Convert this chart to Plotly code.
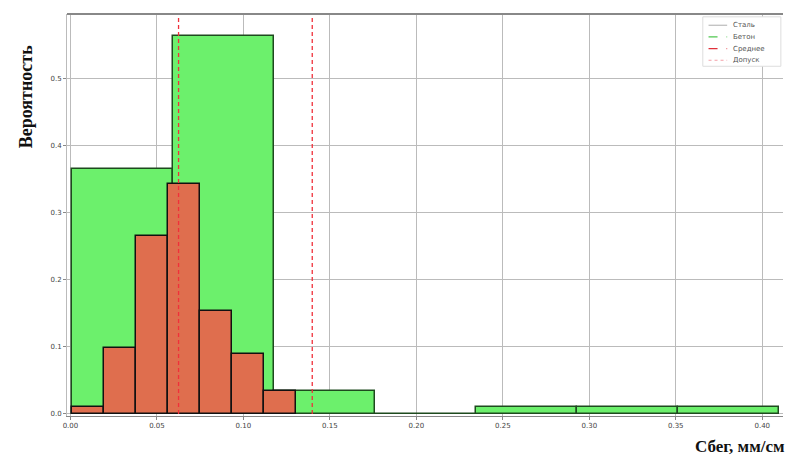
import plotly.graph_objects as go

# Data
red_edges = [0.001, 0.0195, 0.038, 0.0565, 0.075, 0.0935, 0.112, 0.1305]
red_probs = [0.010, 0.099, 0.266, 0.343, 0.153, 0.089, 0.035]

green_edges = [0.001, 0.0594, 0.1178, 0.1762, 0.2346, 0.293, 0.3514, 0.4098]
green_probs = [0.366, 0.564, 0.034, 0.0, 0.0104, 0.0104, 0.0104]

vlines_red = [0.0625, 0.1398]

x_ticks = [0.0, 0.05, 0.1, 0.15, 0.2, 0.25, 0.3, 0.35, 0.4]
x_tick_labels = ["0.00", "0.05", "0.10", "0.15", "0.20", "0.25", "0.30", "0.35", "0.40"]
y_ticks = [0.0, 0.1, 0.2, 0.3, 0.4, 0.5]
y_tick_labels = ["0.0", "0.1", "0.2", "0.3", "0.4", "0.5"]

legend_names = ["Сталь", "Бетон", "Среднее", "Допуск"]
legend_colors = ["#BBBBBB", "#50C850", "#E0303A", "#F4A0A8"]
legend_dash = ["solid", "dash", "dash", "dot"]


def centers(edges):
    return [(a + b) / 2 for a, b in zip(edges[:-1], edges[1:])]


def widths(edges):
    return [b - a for a, b in zip(edges[:-1], edges[1:])]


fig = go.Figure()

fig.add_trace(go.Bar(
    x=centers(green_edges), y=green_probs, width=widths(green_edges),
    marker=dict(color="#6CF06C", line=dict(color="#1E4A1E", width=1.5)),
    name=legend_names[0], showlegend=False,
))
fig.add_trace(go.Bar(
    x=centers(red_edges), y=red_probs, width=widths(red_edges),
    marker=dict(color="#DF6E4E", line=dict(color="#111111", width=1.5)),
    name=legend_names[1], showlegend=False,
))

for xv in vlines_red:
    fig.add_trace(go.Scatter(
        x=[xv, xv], y=[0, 0.6], mode="lines",
        line=dict(color="#F0303A", width=1.3, dash="4px,3px"),
        showlegend=False, hoverinfo="skip",
    ))

# manual legend (paper coordinates)
shapes = [
    dict(type="line", xref="paper", yref="paper", x0=0, x1=1, y0=1, y1=1,
         line=dict(color="#888888", width=2)),
    dict(type="rect", xref="paper", yref="paper", x0=0.888, x1=0.997,
         y0=0.870, y1=0.993, line=dict(color="#DDDDDD", width=1),
         fillcolor="white", layer="above"),
]
annotations = []
row_y = [0.972, 0.943, 0.914, 0.885]
for name, col, dsh, yy in zip(legend_names, legend_colors, legend_dash, row_y):
    shapes.append(dict(type="line", xref="paper", yref="paper", x0=0.896, x1=0.922,
                       y0=yy, y1=yy, line=dict(color=col, width=1.2, dash=dsh),
                       layer="above"))
    annotations.append(dict(text=name, xref="paper", yref="paper", x=0.928, y=yy,
                            xanchor="left", yanchor="middle", showarrow=False,
                            font=dict(size=7, color="#555555")))

annotations += [
    dict(text="<b>Вероятность</b>", xref="paper", yref="paper",
         x=-0.056, y=0.795, textangle=-90, showarrow=False,
         font=dict(family="Liberation Serif", size=18, color="#111111"),
         xanchor="center", yanchor="middle"),
    dict(text="<b>Сбег, мм/см</b>", xref="paper", yref="paper",
         x=1.006, y=-0.077, showarrow=False,
         font=dict(family="Liberation Serif", size=17, color="#111111"),
         xanchor="right", yanchor="middle"),
]

fig.update_layout(
    width=786, height=451,
    margin=dict(l=59, r=11, t=6, b=43),
    paper_bgcolor="white", plot_bgcolor="white",
    barmode="overlay", bargap=0, showlegend=False,
    font=dict(family="DejaVu Sans", size=7, color="#444444"),
    xaxis=dict(range=[-0.002, 0.412], tickvals=x_ticks, ticktext=x_tick_labels,
               showgrid=True, gridcolor="#BBBBBB", gridwidth=1,
               showline=True, linecolor="#888888", linewidth=1, mirror=False,
               ticks="outside", ticklen=3, tickcolor="#888888", zeroline=False),
    yaxis=dict(range=[-0.003, 0.597], tickvals=y_ticks, ticktext=y_tick_labels,
               showgrid=True, gridcolor="#BBBBBB", gridwidth=1,
               showline=True, linecolor="#BBBBBB", linewidth=1, mirror=False,
               ticks="outside", ticklen=3, tickcolor="#888888", zeroline=False),
    shapes=shapes,
    annotations=annotations,
)

fig.write_html("out.html")
